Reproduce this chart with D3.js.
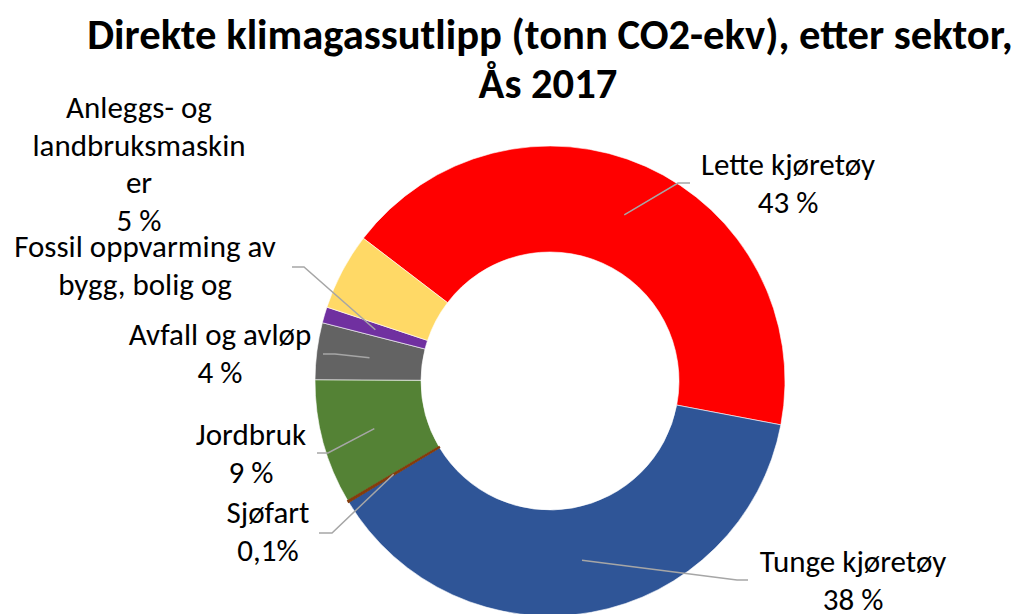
<!DOCTYPE html>
<html>
<head>
<meta charset="utf-8">
<script src="https://cdn.jsdelivr.net/npm/d3@7"></script>
<style>
  body { margin: 0; background: #fff; }
  text { font-family: Carlito, Calibri, Lato, sans-serif; fill: #000; }
</style>
</head>
<body>
<script>
// Chart data
var sectors = ["Lette kjøretøy", "Tunge kjøretøy", "Sjøfart", "Jordbruk",
               "Avfall og avløp", "Fossil oppvarming av bygg, bolig og", "Anleggs- og landbruksmaskiner"];
var shares = [42.6, 38.4, 0.1, 8.6, 3.9, 1.1, 5.3];
var labelLines = [
    ["Lette kjøretøy", "43 %"],
    ["Tunge kjøretøy", "38 %"],
    ["Sjøfart", "0,1%"],
    ["Jordbruk", "9 %"],
    ["Avfall og avløp", "4 %"],
    ["Fossil oppvarming av", "bygg, bolig og"],
    ["Anleggs- og", "landbruksmaskin", "er", "5 %"]
];
var colors = ["#FF0000", "#2F5597", "#843C0C", "#548235", "#636363", "#7030A0", "#FFD966"];

var w = 1018, h = 614;
var cx = 550, cy = 381;
var outerR = 235, innerR = 129;

// label layout: text centre x, first baseline y, and leader bend/end points
var labelPos = [
    {x: 788, y: 175, bend: [678, 183], end: [690, 183]},
    {x: 853, y: 572, bend: [737, 580], end: [748, 580]},
    {x: 268, y: 523, bend: [332, 533], end: [319, 533]},
    {x: 251, y: 445, bend: [328, 453], end: [317, 453]},
    {x: 220, y: 345, bend: [335, 354], end: [323, 354]},
    {x: 145, y: 257, bend: [304, 267], end: [292, 267]},
    {x: 139, y: 118, bend: null, end: null}
];
var lineGap = 37.5;

var svg = d3.select("body")
    .append("svg")
    .attr("width", w)
    .attr("height", h);

// Title
svg.append("text")
    .attr("x", 550)
    .attr("y", 49)
    .attr("text-anchor", "middle")
    .style("font-weight", "bold")
    .style("font-size", "42.6px")
    .text("Direkte klimagassutlipp (tonn CO2-ekv), etter sektor,");
svg.append("text")
    .attr("x", 548)
    .attr("y", 98)
    .attr("text-anchor", "middle")
    .style("font-weight", "bold")
    .style("font-size", "42.6px")
    .text("Ås 2017");

var pie = d3.pie()
    .sort(null)
    .startAngle(-52.6 * Math.PI / 180)
    .endAngle((360 - 52.6) * Math.PI / 180);

var arc = d3.arc()
    .innerRadius(innerR)
    .outerRadius(outerR);

var midArc = d3.arc()
    .innerRadius((innerR + outerR) / 2)
    .outerRadius((innerR + outerR) / 2);

var arcs = pie(shares);

var g = svg.append("g")
    .attr("transform", "translate(" + cx + "," + cy + ")");

g.selectAll("path")
    .data(arcs)
    .enter()
    .append("path")
    .attr("d", arc)
    .attr("fill", function(d, i) { return colors[i]; })
    .attr("stroke", "#fff")
    .attr("stroke-width", 0.6);

// the tiny Sjøfart slice is drawn thicker so it stays visible, as in the original
g.append("path")
    .attr("d", arc(arcs[2]))
    .attr("fill", colors[2])
    .attr("stroke", colors[2])
    .attr("stroke-width", 1.6);

// Leader lines
arcs.forEach(function(d, i) {
    var p = labelPos[i];
    if (!p.end) return;
    var c = midArc.centroid(d);
    var pts = [[cx + c[0], cy + c[1]], p.bend, p.end];
    svg.append("path")
        .attr("d", d3.line()(pts))
        .attr("fill", "none")
        .attr("stroke", "#A6A6A6")
        .attr("stroke-width", 1.5);
});

// Labels
labelLines.forEach(function(lines, i) {
    var p = labelPos[i];
    var t = svg.append("text")
        .attr("text-anchor", "middle")
        .style("font-size", "31px");
    lines.forEach(function(s, j) {
        t.append("tspan")
            .attr("x", p.x)
            .attr("y", p.y + j * lineGap)
            .text(s);
    });
});
</script>
</body>
</html>
